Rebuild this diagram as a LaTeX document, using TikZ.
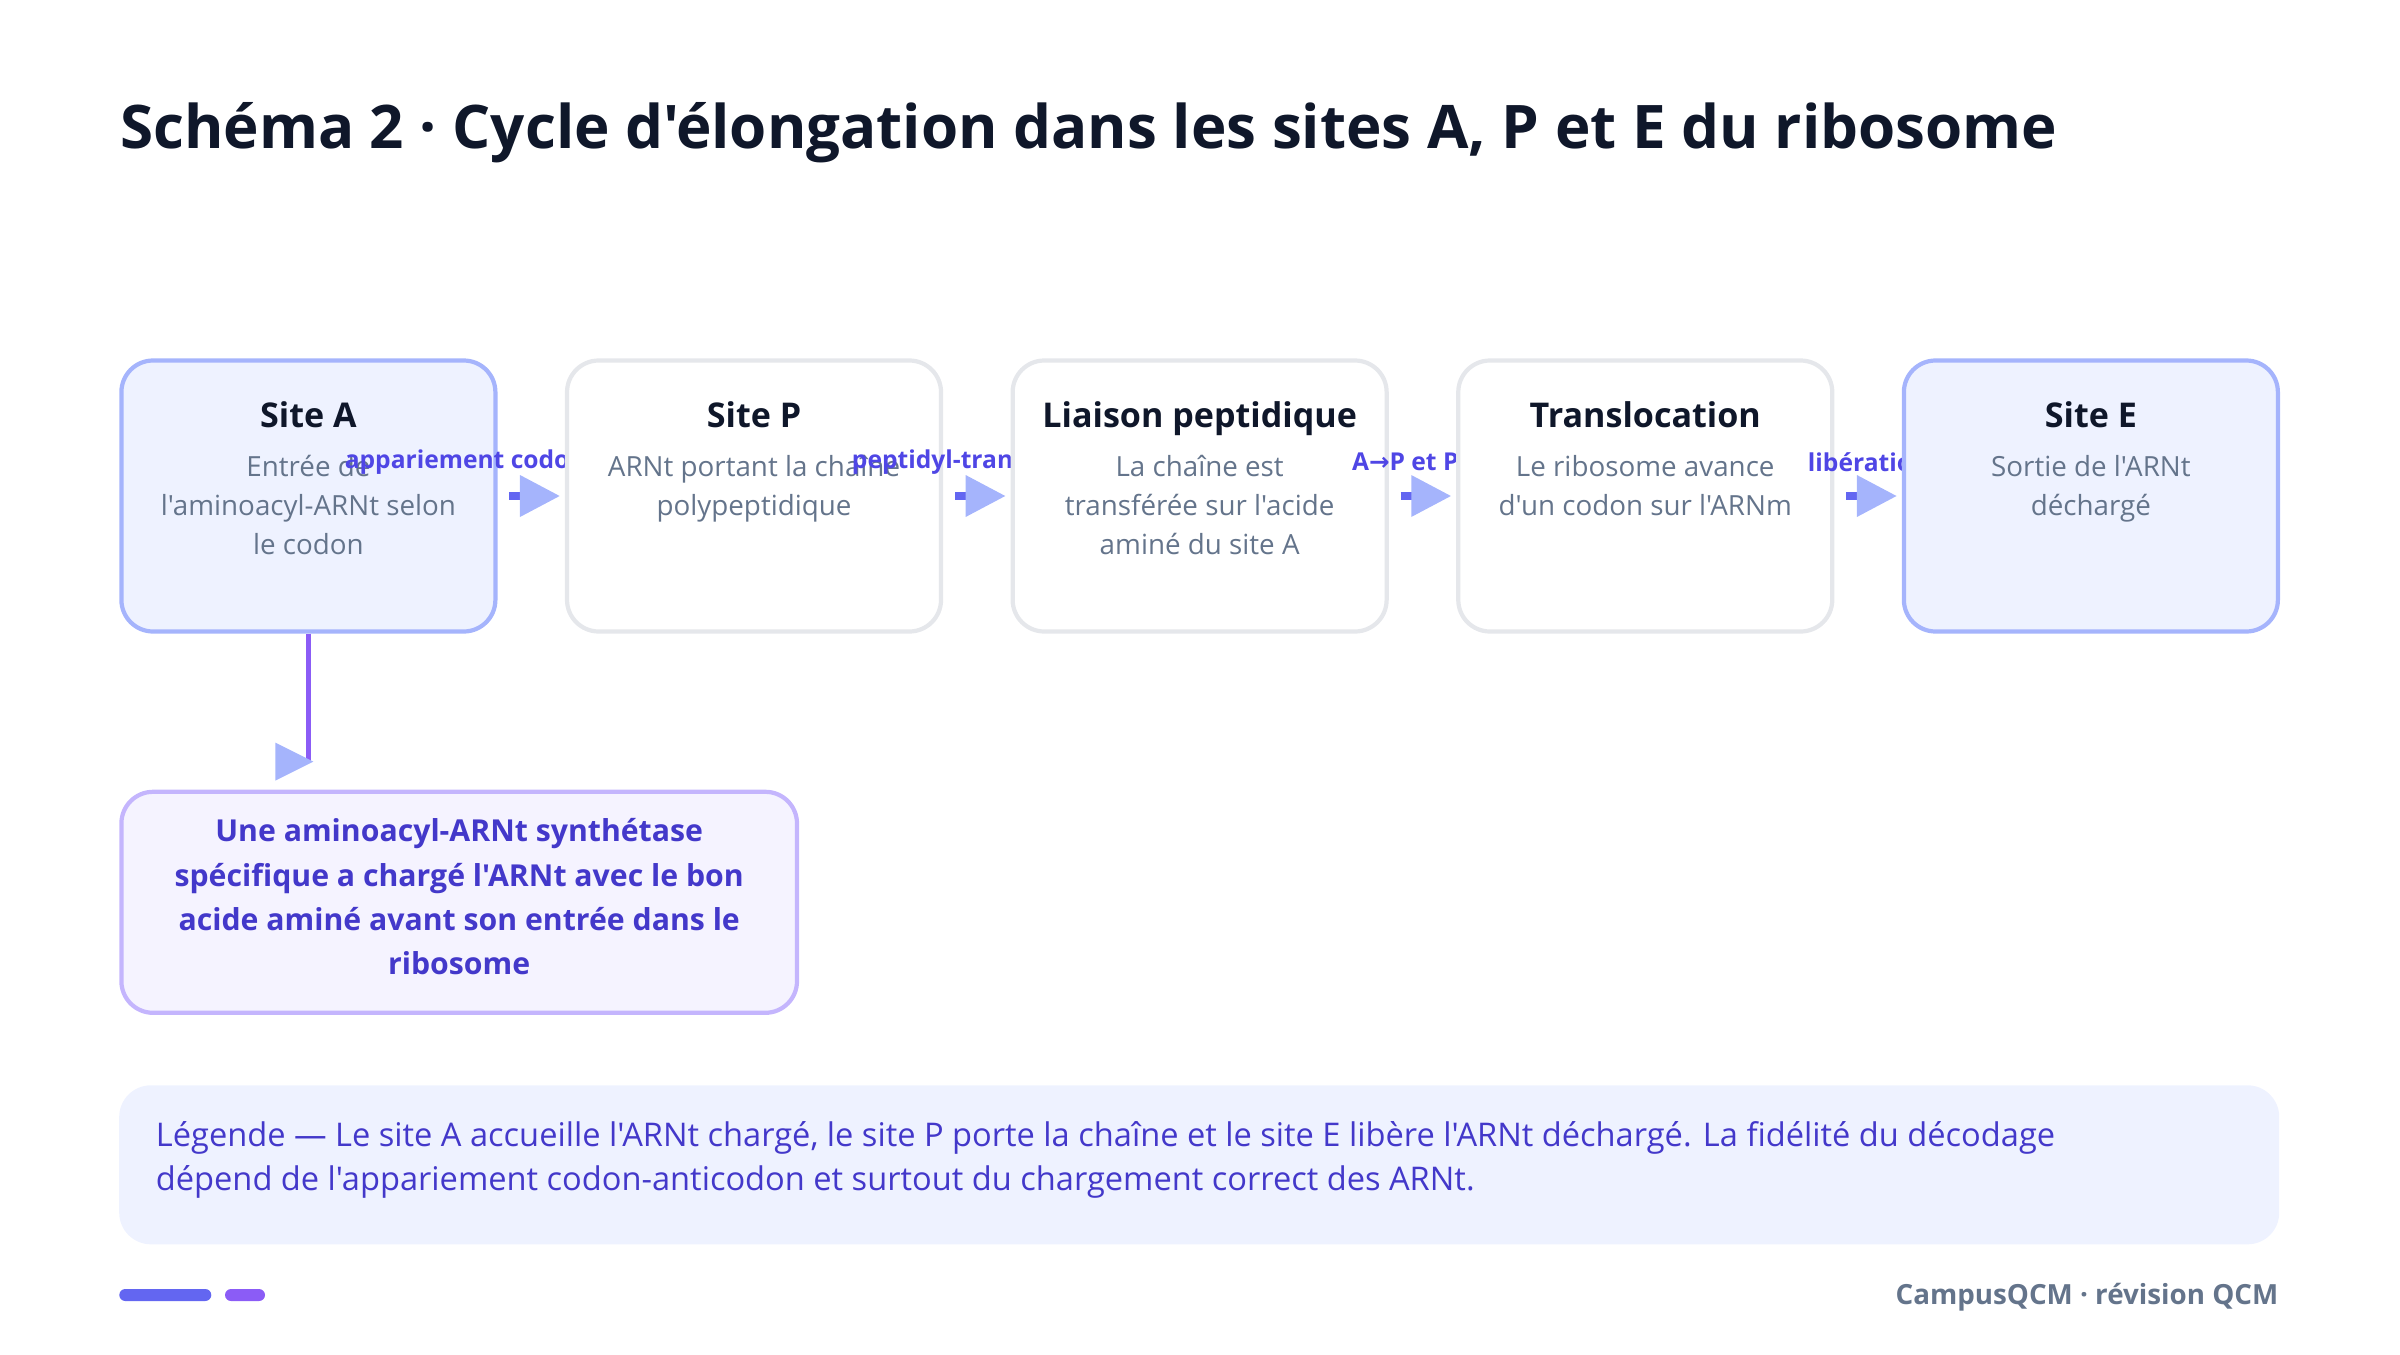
\documentclass[tikz,border=0pt]{standalone}
\usepackage{fontspec}
\setmainfont{Open Sans}[Ligatures=TeXOff]
\newfontfamily\arrowfont{DejaVu Sans}
\usetikzlibrary{arrows.meta, positioning, calc}
\definecolor{inkdark}{HTML}{0F172A}
\definecolor{descgray}{HTML}{64748B}
\definecolor{keyfill}{HTML}{EEF2FF}
\definecolor{keyline}{HTML}{A5B4FC}
\definecolor{plainline}{HTML}{E5E7EB}
\definecolor{labelindigo}{HTML}{4F46E5}
\definecolor{stubindigo}{HTML}{6366F1}
\definecolor{headindigo}{HTML}{A5B4FC}
\definecolor{linkviolet}{HTML}{8B5CF6}
\definecolor{notefill}{HTML}{F5F3FF}
\definecolor{noteline}{HTML}{C4B5FD}
\definecolor{notetext}{HTML}{4338CA}

\begin{document}
\begin{tikzpicture}[
  sitebox/.style={draw=plainline, fill=white, line width=1.2pt, rounded corners=9pt, minimum width=3.74cm, minimum height=2.71cm, inner sep=0pt},
  sitekey/.style={sitebox, draw=keyline, fill=keyfill},
  sitetitle/.style={font=\fontsize{9.7}{12}\selectfont\bfseries, text=inkdark, inner sep=0pt, anchor=base},
  sitetext/.style={font=\fontsize{7.9}{11}\selectfont, text=descgray, align=center, inner sep=0pt, anchor=north},
  steplabel/.style={font=\fontsize{7}{8}\selectfont\bfseries, text=labelindigo, inner sep=0pt},
  flow/.style={draw=stubindigo, line width=2pt, shorten <=3.4pt, shorten >=1.4pt, -{Triangle[length=0.40cm, width=0.40cm, color=headindigo]}},
  pill/.style={fill=#1, rounded corners=0.06cm, minimum height=0.12cm, inner sep=0pt}
]
  \useasboundingbox (0,0) rectangle (24,-13.54);

  % title
  \node[anchor=base west, inner sep=0pt, text=inkdark, font=\fontsize{17.1}{20}\selectfont\bfseries] (title) at (1.194,-1.485)
    {Schéma 2 · Cycle d'élongation dans les sites A, P et E du ribosome};

  % the five steps
  \node[sitekey] (siteA) at (3.084,-4.96) {};
  \node[sitetitle] at ($(siteA.north)+(0,-0.69)$) {Site A};
  \node[sitetext] at ($(siteA.north)+(0,-0.965)$) {Entrée de\\l'aminoacyl-ARNt selon\\le codon};
  \node[steplabel] at ($(siteA.east)+(0.337,0.34)$) {appariement codon-anticodon};

  \node[sitebox, right=0.674cm of siteA] (siteP) {};
  \node[sitetitle] at ($(siteP.north)+(0,-0.69)$) {Site P};
  \node[sitetext] at ($(siteP.north)+(0,-0.965)$) {ARNt portant la chaîne\\polypeptidique};
  \draw[flow] (siteA) -- (siteP);
  \node[steplabel] at ($(siteP.east)+(0.337,0.34)$) {peptidyl-transférase};

  \node[sitebox, right=0.674cm of siteP] (bond) {};
  \node[sitetitle] at ($(bond.north)+(0,-0.69)$) {Liaison peptidique};
  \node[sitetext] at ($(bond.north)+(0,-0.965)$) {La chaîne est\\transférée sur l'acide\\aminé du site A};
  \draw[flow] (siteP) -- (bond);
  \node[steplabel] at ($(bond.east)+(0.337,0.34)$) {A{\arrowfont →}P et P{\arrowfont →}E};

  \node[sitebox, right=0.674cm of bond] (transloc) {};
  \node[sitetitle] at ($(transloc.north)+(0,-0.69)$) {Translocation};
  \node[sitetext] at ($(transloc.north)+(0,-0.965)$) {Le ribosome avance\\d'un codon sur l'ARNm};
  \draw[flow] (bond) -- (transloc);
  \node[steplabel] at ($(transloc.east)+(0.337,0.34)$) {libération};

  \node[sitekey, right=0.674cm of transloc] (siteE) {};
  \node[sitetitle] at ($(siteE.north)+(0,-0.69)$) {Site E};
  \node[sitetext] at ($(siteE.north)+(0,-0.965)$) {Sortie de l'ARNt\\déchargé};
  \draw[flow] (transloc) -- (siteE);

  % charging note
  \node[draw=noteline, fill=notefill, line width=1.2pt, rounded corners=9pt, minimum width=6.756cm, minimum height=2.21cm, inner sep=0pt] (note) at (4.592,-9.023) {};
  \node[align=center, inner sep=0pt, text=notetext, font=\fontsize{8.6}{12.6}\selectfont\bfseries] (notetext) at ($(note.center)+(0,0.055)$)
    {Une aminoacyl-ARNt synthétase\\spécifique a chargé l'ARNt avec le bon\\acide aminé avant son entrée dans le\\ribosome};
  \coordinate (noteend) at ($(siteA.south)+(0,-1.28)$);
  \draw[linkviolet, line width=1.6pt] (siteA.south) -- (noteend);
  \fill[headindigo] ($(noteend)+(0.05,0)$) -- ++(-0.38,0.19) -- ++(0,-0.38) -- cycle;

  % legend
  \node[fill=keyfill, rounded corners=9pt, minimum width=21.6cm, minimum height=1.59cm, inner sep=0pt] (legend) at (11.992,-11.648) {};
  \node[anchor=north west, inner sep=0pt, align=left, text=notetext, font=\fontsize{9.28}{12.6}\selectfont] (legendtext) at ($(legend.north west)+(0.367,-0.36)$)
    {Légende — Le site A accueille l'ARNt chargé, le site P porte la chaîne et le site E libère l'ARNt déchargé. La fidélité du décodage\\dépend de l'appariement codon-anticodon et surtout du chargement correct des ARNt.};

  % footer
  \node[pill=stubindigo, minimum width=0.92cm] (bar1) at (1.653,-12.95) {};
  \node[pill=linkviolet, minimum width=0.40cm, right=0.123cm of bar1] (bar2) {};
  \node[anchor=east, inner sep=0pt, text=descgray, font=\fontsize{7.9}{10}\selectfont\bfseries] (credit) at (22.79,-12.97) {CampusQCM · révision QCM};
\end{tikzpicture}
\end{document}
